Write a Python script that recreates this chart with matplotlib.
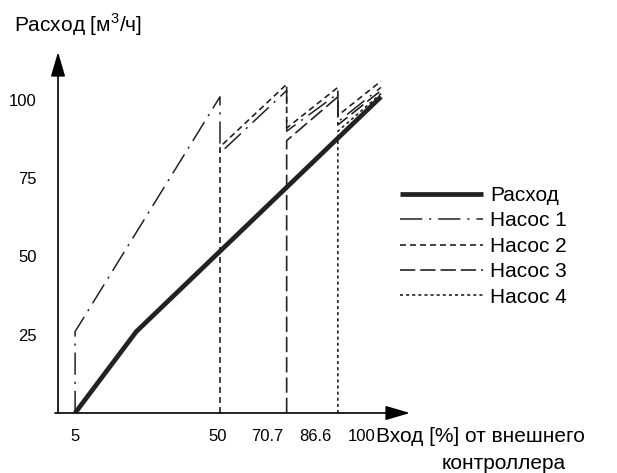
import matplotlib
matplotlib.use("Agg")
import matplotlib.pyplot as plt
import matplotlib.transforms as mtransforms

plt.rcParams['font.family'] = ['Liberation Sans', 'DejaVu Sans']
plt.rcParams['mathtext.fontset'] = 'custom'
plt.rcParams['mathtext.rm'] = 'Liberation Sans'
plt.rcParams['lines.scale_dashes'] = False

# flow curve and pump speed curves (input % -> m3/h)
flow_x = [5, 24, 100]
flow_y = [0, 26, 101]

pump1_x = [5, 5, 50, 50, 70.7, 70.7, 86.6, 86.6, 100]
pump1_y = [0, 26, 101, 83, 103, 90, 102, 93, 104]
pump2_x = [50, 50, 70.7, 70.7, 86.6, 86.6, 100]
pump2_y = [0, 85, 105, 91, 104, 95, 106]
pump3_x = [70.7, 70.7, 86.6, 86.6, 100]
pump3_y = [0, 87, 101, 92, 103]
pump4_x = [86.6, 86.6, 100]
pump4_y = [0, 90, 102]

xticks = [5, 50, 70.7, 86.6, 100]
xtick_labels = ['5', '50', '70.7', '86.6', '100']
yticks = [25, 50, 75, 100]
ytick_labels = ['25', '50', '75', '100']
legend_labels = ['Расход', 'Насос 1', 'Насос 2', 'Насос 3', 'Насос 4']

col = '#222222'

fig = plt.figure(figsize=(6.17, 4.73), dpi=100)
ax = fig.add_axes([55 / 617, 60 / 473, 355 / 617, 361 / 473])
ax.set_xlim(-1.24, 109.0)
ax.set_ylim(0, 115.3)
for s in ax.spines.values():
    s.set_visible(False)

ax.plot(flow_x, flow_y, color=col, lw=3.4, solid_capstyle='butt', label=legend_labels[0])
ax.plot(pump1_x, pump1_y, color=col, lw=1.1, ls=(0, (16, 5, 1.5, 5)), label=legend_labels[1])
ax.plot(pump2_x, pump2_y, color=col, lw=1.2, ls=(0, (4.3, 2.9)), label=legend_labels[2])
ax.plot(pump3_x, pump3_y, color=col, lw=1.2, ls=(0, (11, 3.6)), label=legend_labels[3])
ax.plot(pump4_x, pump4_y, color=col, lw=1.2, ls=(0, (2.2, 2.2)), label=legend_labels[4])

# axis arrows
arrow = dict(arrowstyle='-|>,head_length=0.75,head_width=0.22', mutation_scale=20,
             lw=1.2, color='black', shrinkA=0, shrinkB=0)
ax.annotate('', xy=(1, 0), xytext=(0, 0), xycoords='axes fraction', arrowprops=arrow)
ax.annotate('', xy=(0.0085, 1), xytext=(0.0085, 0), xycoords='axes fraction', arrowprops=arrow)

# x tick labels, nudged left like in the schematic
ax.set_xticks([])
nudge = [0, -2, -19, -22, -19]
base = mtransforms.blended_transform_factory(ax.transData, ax.transAxes)
for xv, lbl, dx in zip(xticks, xtick_labels, nudge):
    tr = mtransforms.offset_copy(base, fig=fig, x=dx, y=0, units='dots')
    ax.text(xv, -0.066, lbl, transform=tr, ha='center', va='center', fontsize=12)

ax.set_yticks(yticks)
ax.set_yticklabels(ytick_labels, fontsize=12)
ax.tick_params(length=0)
ax.tick_params(axis='y', pad=13)

ax.text(0.904, -0.066, 'Вход [%] от внешнего', transform=ax.transAxes,
        ha='left', va='center', fontsize=15)
ax.text(1.090, -0.139, 'контроллера', transform=ax.transAxes,
        ha='left', va='center', fontsize=15)
fig.text(14 / 617, 1 - 25 / 473, 'Расход [м$^3$/ч]', ha='left', va='center', fontsize=15)

ax.legend(loc='upper left', bbox_to_anchor=(400 / 617, 0.607), bbox_transform=fig.transFigure,
          frameon=False, fontsize=15, handlelength=4.0, handletextpad=0.33,
          labelspacing=0.31, borderpad=0, borderaxespad=0)

fig.savefig('out.png', dpi=100)
